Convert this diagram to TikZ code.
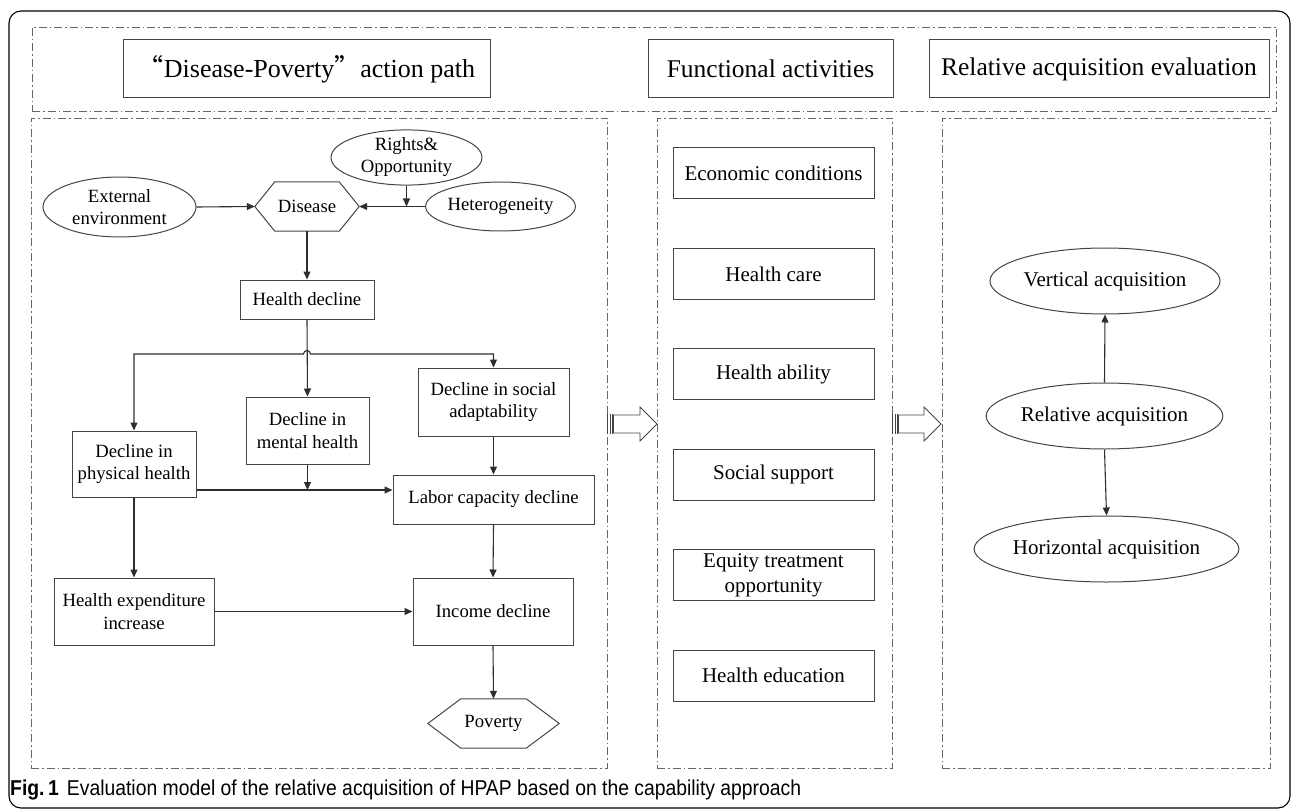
\documentclass[tikz,border=0pt]{standalone}
\usepackage{fontspec}
\setmainfont{Liberation Serif}
\newfontfamily\cjkq{Noto Sans CJK SC}
\newfontfamily\capsans[FakeStretch=0.9]{Liberation Sans}
\usetikzlibrary{arrows.meta,calc,shapes.geometric}
\definecolor{ln}{HTML}{2E2E2E}
\definecolor{bx}{HTML}{444444}
\definecolor{dd}{HTML}{666666}
\begin{document}
\begin{tikzpicture}[x=1pt,y=-1pt,
  dashdot/.style={draw=dd,line width=0.9pt,dash pattern=on 8pt off 3pt on 1.5pt off 3pt},
  panel/.style={dashdot,inner sep=0pt},
  lbox/.style={draw=bx,line width=1pt,inner sep=0pt,align=center,font=\fontsize{18.7}{22.5}\selectfont},
  mbox/.style={draw=bx,line width=1pt,inner sep=0pt,align=center,minimum width=201pt,minimum height=51pt,font=\fontsize{21}{25}\selectfont},
  hbox/.style={draw=bx,line width=1pt,inner sep=0pt,align=center,minimum height=58pt,font=\fontsize{25.5}{30}\selectfont},
  lell/.style={draw=bx,line width=1pt,ellipse,inner sep=0pt,align=center,font=\fontsize{18.7}{22}\selectfont},
  rell/.style={draw=bx,line width=1pt,ellipse,inner sep=0pt,align=center,minimum height=66pt,font=\fontsize{21}{25}\selectfont},
  hexa/.style={inner sep=0pt,minimum height=49pt,font=\fontsize{18.7}{22.5}\selectfont},
  hexline/.style={draw=bx,line width=1pt},
  arr/.style={draw=ln,line width=1.1pt,-{Triangle[length=8pt,width=7pt]}},
  arrs/.style={draw=ln,line width=1.1pt,{Triangle[length=8pt,width=7pt]}-{Triangle[length=8pt,width=7pt]}},
  blk/.style={draw=bx,line width=0.8pt,fill=white}
]
\useasboundingbox (0,0) rectangle (1292,810);
% outer frame
\draw[black,line width=1.1pt,rounded corners=12pt] (9,11) rectangle (1290,808);
% header strip and panels
\node[panel,minimum width=1244pt,minimum height=84pt] (top) at (654,69) {};
\node[panel,minimum width=576pt,minimum height=650pt] (P1) at (319,443) {};
\node[panel,minimum width=235pt,minimum height=650pt] (P2) at (774.5,443) {};
\node[panel,minimum width=328pt,minimum height=650pt] (P3) at (1106,443) {};
% headers
\node[hbox,minimum width=367pt,font=\fontsize{26}{30}\selectfont] (H1) at (306.5,69) {{\cjkq“}Disease-Poverty{\cjkq”}action path};
\node[hbox,minimum width=245pt] (H2) at (770.5,69) {Functional activities};
\node[hbox,minimum width=340pt] (H3) at (1099,69) {Relative acquisition evaluation};
% left flow
\node[lell,minimum width=153pt,minimum height=60pt] (ext) at (119.5,207) {External\\environment};
\node[lell,minimum width=151pt,minimum height=49pt] (rights) at (406.5,157.5) {Rights\&\\Opportunity};
\node[lell,minimum width=135pt,minimum height=49pt] (het) at (500.5,206.5) {Heterogeneity};
\node[hexa,minimum width=104pt] (dis) at (307,206.5) {Disease};
\draw[hexline] (dis.west) -- ($(dis.north west)+(20,0)$) -- ($(dis.north east)+(-20,0)$) -- (dis.east) -- ($(dis.south east)+(-20,0)$) -- ($(dis.south west)+(20,0)$) -- cycle;
\node[lbox,minimum width=134pt,minimum height=39pt] (hd) at (307,299.5) {Health decline};
\node[lbox,minimum width=123pt,minimum height=67pt] (mental) at (307.5,430.5) {Decline in\\mental health};
\node[lbox,minimum width=151pt,minimum height=68pt] (social) at (493.5,402) {Decline in social\\adaptability};
\node[lbox,minimum width=124pt,minimum height=66pt] (phys) at (134,464) {Decline in\\physical health};
\node[lbox,minimum width=201pt,minimum height=49pt] (labor) at (493.5,499.5) {Labor capacity decline};
\node[lbox,minimum width=160pt,minimum height=67pt] (exp) at (134,611.5) {Health expenditure\\increase};
\node[lbox,minimum width=160pt,minimum height=67pt] (inc) at (493,611.5) {Income decline};
\node[hexa,minimum width=131pt] (pov) at (493.5,723.5) {Poverty};
\draw[hexline] (pov.west) -- ($(pov.north west)+(33,0)$) -- ($(pov.north east)+(-33,0)$) -- (pov.east) -- ($(pov.south east)+(-33,0)$) -- ($(pov.south west)+(33,0)$) -- cycle;
% connectors
\coordinate (hy) at (0,354);
\coordinate (ly) at (0,490);
\draw[arr] (ext.east) -- (dis.west);
\draw[arr] (het.west) -- (dis.east);
\draw[arr] (rights.south) -- (rights.south |- het.west);
\draw[arr] (dis.south) -- (hd.north);
\draw[arr] (hd.south) -- (mental.north);
\draw[arrs] (phys.north) -- (phys.north |- hy) -- ($(hd.south |- hy)+(-3.5,0)$) arc[start angle=180,end angle=360,radius=3.5] -- (social.north |- hy) -- (social.north);
\draw[arr] (mental.south) -- (mental.south |- ly);
\draw[arr] (phys.east |- ly) -- (labor.west |- ly);
\draw[arr] (social.south) -- (labor.north);
\draw[arr] (labor.south) -- (inc.north);
\draw[arr] (phys.south) -- (exp.north);
\draw[arr] (exp.east) -- (inc.west);
\draw[arr] (inc.south) -- (pov.north);
% middle column
\node[mbox] (m1) at (773.5,173.5) {Economic conditions};
\node[mbox] (m2) at (773.5,273.9) {Health care};
\node[mbox] (m3) at (773.5,374.3) {Health ability};
\node[mbox] (m4) at (773.5,474.7) {Social support};
\node[mbox] (m5) at (773.5,575.1) {Equity treatment\\opportunity};
\node[mbox] (m6) at (773.5,675.5) {Health education};
% right column
\node[rell,minimum width=202pt] (vert) at (1105,281) {Vertical acquisition};
\node[rell,minimum width=217pt] (rel) at (1104.5,416) {Relative acquisition};
\node[rell,minimum width=233pt] (hor) at (1106.5,549) {Horizontal acquisition};
\draw[arr] (rel.north) -- (vert.south);
\draw[arr] (rel.south) -- (hor.north);
% block arrows between panels
\foreach \x in {607.3,610,612.7} \draw[bx,line width=0.8pt] (\x,414) -- (\x,434);
\draw[blk] (613.5,415) -- (640,415) -- (640,407) -- (657,424) -- (640,441) -- (640,433) -- (613.5,433) -- cycle;
\foreach \x in {892.3,895,897.7} \draw[bx,line width=0.8pt] (\x,414) -- (\x,434);
\draw[blk] (898.5,415) -- (924,415) -- (924,407) -- (941,424) -- (924,441) -- (924,433) -- (898.5,433) -- cycle;
% caption
\node[anchor=base west,inner sep=0pt,font=\capsans\fontsize{21.5}{25}\selectfont] (cap) at (10,795) {\textbf{Fig.\,1}\hspace{8pt}Evaluation model of the relative acquisition of HPAP based on the capability approach};
\end{tikzpicture}
\end{document}
